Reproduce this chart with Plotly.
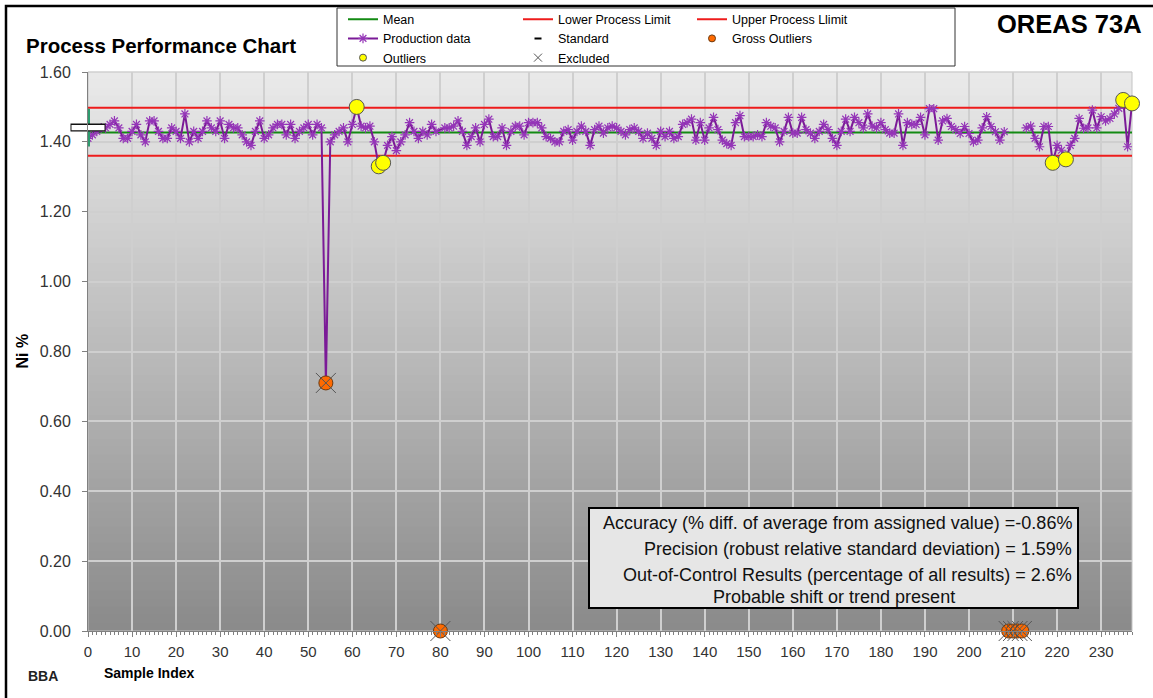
import plotly.graph_objects as go

# ---------------- data ----------------
CHART_TITLE = "Process Performance Chart"
STANDARD_NAME = "OREAS 73A"
Y_TITLE = "Ni %"
X_TITLE = "Sample Index"

MEAN = 1.427
LOWER_LIMIT = 1.360
UPPER_LIMIT = 1.498
STANDARD_VALUE = 1.441
STANDARD_2SD = 0.054
STANDARD_INDEX = 0
X_MAX = 237

# production results by sample index (None = no plotted value)
production_ni = [
    1.41, 1.42, 1.43, 1.44, 1.44, 1.45, 1.46, 1.44, 1.41, 1.41,   # 0-9
    1.43, 1.45, 1.42, 1.40, 1.46, 1.46, 1.43, 1.41, 1.41, 1.44,   # 10-19
    1.43, 1.41, 1.48, 1.40, 1.43, 1.41, 1.43, 1.46, 1.44, 1.43,   # 20-29
    1.46, 1.41, 1.45, 1.44, 1.44, 1.42, 1.40, 1.39, 1.43, 1.46,   # 30-39
    1.41, 1.42, 1.44, 1.45, 1.45, 1.42, 1.45, 1.41, 1.43, 1.44,   # 40-49
    1.45, 1.42, 1.45, 1.44, 0.71, 1.40, 1.42, 1.43, 1.44, 1.40,   # 50-59
    1.45, 1.50, 1.445, 1.44, 1.445, 1.40, 1.33, 1.34, 1.39, 1.415,  # 60-69
    1.375, 1.40, 1.42, 1.455, 1.43, 1.41, 1.43, 1.42, 1.45, 1.43,  # 70-79
    None, 1.44, 1.44, 1.445, 1.46, 1.43, 1.39, 1.415, 1.44, 1.40,  # 80-89
    1.45, 1.465, 1.415, 1.415, 1.44, 1.39, 1.43, 1.445, 1.445, 1.42,  # 90-99
    1.455, 1.455, 1.455, 1.44, 1.415, 1.41, 1.40, 1.40, 1.43, 1.435,  # 100-109
    1.405, 1.43, 1.445, 1.43, 1.39, 1.435, 1.445, 1.425, 1.44, 1.445,  # 110-119
    1.44, 1.43, 1.42, 1.435, 1.44, 1.43, 1.41, 1.425, 1.41, 1.39,  # 120-129
    1.43, 1.415, 1.43, 1.41, 1.415, 1.45, 1.455, 1.465, 1.405, 1.455,  # 130-139
    1.405, 1.44, 1.47, 1.435, 1.405, 1.395, 1.39, 1.455, 1.475, 1.415,  # 140-149
    1.415, 1.415, 1.42, 1.415, 1.455, 1.445, 1.44, 1.40, 1.43, 1.47,  # 150-159
    1.425, 1.425, 1.47, 1.435, 1.425, 1.41, 1.43, 1.45, 1.435, 1.41,  # 160-169
    1.39, 1.43, 1.465, 1.43, 1.47, 1.455, 1.44, 1.48, 1.445, 1.44,  # 170-179
    1.455, 1.435, 1.425, 1.425, 1.48, 1.39, 1.455, 1.45, 1.45, 1.47,  # 180-189
    1.42, 1.495, 1.495, 1.405, 1.46, 1.467, 1.444, 1.435, 1.424, 1.444,  # 190-199
    1.424, 1.40, 1.405, 1.44, 1.472, 1.444, 1.429, 1.405, 1.429, None,  # 200-209
    None, None, None, 1.44, 1.445, 1.41, 1.386, 1.444, 1.444, 1.34,  # 210-219
    1.39, 1.376, 1.35, 1.39, 1.41, 1.467, 1.439, 1.44, 1.491, 1.44,  # 220-229
    1.472, 1.46, 1.467, 1.48, 1.496, 1.52, 1.386, 1.51,  # 230-237
]
# indices whose missing value is bridged by the production line
bridged_indices = [80]

outlier_index = [61, 66, 67, 219, 222, 235, 237]
outlier_ni = [1.50, 1.33, 1.34, 1.34, 1.35, 1.52, 1.51]

gross_index = [54, 80, 209, 210, 211, 212]
gross_ni = [0.71, 0.00, 0.00, 0.00, 0.00, 0.00]

excluded_index = gross_index
excluded_ni = gross_ni

x_tick_values = list(range(0, 231, 10))
y_tick_values = [0.0, 0.2, 0.4, 0.6, 0.8, 1.0, 1.2, 1.4, 1.6]

stats_lines = [
    "Accuracy (% diff. of average from assigned value) =-0.86%",
    "Precision (robust relative standard deviation) = 1.59%",
    "Out-of-Control Results (percentage of all results) = 2.6%",
    "Probable shift or trend present",
]

# ---------------- geometry helpers ----------------
W, H = 1153, 698
PL, PR, PT, PB = 88, 1132, 72, 631


def px_x(px):
    return (px - PL) / (PR - PL)


def px_y(py):
    return (PB - py) / (PB - PT)


FONT = "Liberation Sans, Arial, sans-serif"
PURPLE = "#7b1a97"
PURPLE_MK = "#9536b8"
GREEN = "#138a13"
RED = "#ee1c1c"
GREY_X = "#555555"

fig = go.Figure()

# limits and mean
fig.add_trace(go.Scatter(x=[0, X_MAX], y=[MEAN, MEAN], mode="lines", name="Mean",
                         line=dict(color=GREEN, width=2), legend="legend", legendrank=1,
                         hoverinfo="skip"))
fig.add_trace(go.Scatter(x=[0, X_MAX], y=[LOWER_LIMIT, LOWER_LIMIT], mode="lines",
                         name="Lower Process Limit", line=dict(color=RED, width=2),
                         legend="legend2", legendrank=1, hoverinfo="skip"))
fig.add_trace(go.Scatter(x=[0, X_MAX], y=[UPPER_LIMIT, UPPER_LIMIT], mode="lines",
                         name="Upper Process Llimit", line=dict(color=RED, width=2),
                         legend="legend3", legendrank=1, hoverinfo="skip"))

# production data
prod_x = [i for i, v in enumerate(production_ni) if i not in bridged_indices]
prod_y = [production_ni[i] for i in prod_x]
fig.add_trace(go.Scatter(x=prod_x, y=prod_y, mode="lines+markers", name="Production data",
                         connectgaps=False,
                         line=dict(color=PURPLE, width=2),
                         marker=dict(symbol="asterisk-open", size=8, color=PURPLE_MK,
                                     line=dict(color=PURPLE_MK, width=1.2)),
                         legend="legend", legendrank=2))

# standard (box with 2SD bar)
fig.add_trace(go.Scatter(x=[STANDARD_INDEX], y=[STANDARD_VALUE], mode="markers",
                         showlegend=False, cliponaxis=False,
                         error_y=dict(type="constant", value=STANDARD_2SD, color="#2e9b6e",
                                      thickness=4, width=0),
                         marker=dict(symbol="line-ew", size=25, color="#111111",
                                     line=dict(color="#111111", width=8))))
fig.add_trace(go.Scatter(x=[STANDARD_INDEX], y=[STANDARD_VALUE], mode="markers",
                         showlegend=False, cliponaxis=False,
                         marker=dict(symbol="line-ew", size=23.6, color="white",
                                     line=dict(color="white", width=5.2))))

# outliers
fig.add_trace(go.Scatter(x=outlier_index, y=outlier_ni, mode="markers", showlegend=False,
                         cliponaxis=False,
                         marker=dict(symbol="circle", size=15, color="#ffff00",
                                     line=dict(color="#555555", width=1))))
# gross outliers
fig.add_trace(go.Scatter(x=gross_index, y=gross_ni, mode="markers", showlegend=False,
                         cliponaxis=False,
                         marker=dict(symbol="circle", size=14, color="#ff6a00",
                                     line=dict(color="#6b3a10", width=1))))
# excluded
fig.add_trace(go.Scatter(x=excluded_index, y=excluded_ni, mode="markers", showlegend=False,
                         cliponaxis=False,
                         marker=dict(symbol="x-thin-open", size=20, color=GREY_X,
                                     line=dict(color=GREY_X, width=1))))

# legend entries with small symbols
fig.add_trace(go.Scatter(x=[None], y=[None], mode="markers", name="Standard",
                         marker=dict(symbol="line-ew", size=5, color="black",
                                     line=dict(color="black", width=2)),
                         legend="legend2", legendrank=2))
fig.add_trace(go.Scatter(x=[None], y=[None], mode="markers", name="Excluded",
                         marker=dict(symbol="x-thin-open", size=8, color=GREY_X,
                                     line=dict(color=GREY_X, width=1)),
                         legend="legend2", legendrank=3))
fig.add_trace(go.Scatter(x=[None], y=[None], mode="markers", name="Outliers",
                         marker=dict(symbol="circle", size=7, color="#ffff00",
                                     line=dict(color="#555555", width=1)),
                         legend="legend", legendrank=3))
fig.add_trace(go.Scatter(x=[None], y=[None], mode="markers", name="Gross Outliers",
                         marker=dict(symbol="circle", size=7, color="#ff6a00",
                                     line=dict(color="#6b3a10", width=1)),
                         legend="legend3", legendrank=2))

# ---------------- shapes ----------------
shapes = []
N_BANDS = 70
top_c, bot_c = 234, 138
for k in range(N_BANDS):
    t = (k + 0.5) / N_BANDS
    c = round(top_c + (bot_c - top_c) * t)
    shapes.append(dict(type="rect", xref="x domain", yref="y domain",
                       x0=0, x1=1, y0=1 - (k + 1) / N_BANDS, y1=1 - k / N_BANDS + 0.001,
                       fillcolor=f"rgb({c},{c},{c})", line=dict(width=0), layer="below"))
shapes.append(dict(type="rect", xref="x domain", yref="y domain", x0=0, x1=1, y0=0, y1=1,
                   line=dict(color="#c4c4c4", width=1), layer="below"))
# outer frame
shapes.append(dict(type="rect", xref="paper", yref="paper",
                   x0=px_x(6), x1=px_x(1170), y0=px_y(715), y1=px_y(6),
                   line=dict(color="black", width=2.5), fillcolor="rgba(0,0,0,0)", layer="below"))
# legend box
shapes.append(dict(type="rect", xref="paper", yref="paper",
                   x0=px_x(337), x1=px_x(955), y0=px_y(66), y1=px_y(8),
                   line=dict(color="#333333", width=1), fillcolor="white", layer="below"))
# stats box
shapes.append(dict(type="rect", xref="paper", yref="paper",
                   x0=px_x(589), x1=px_x(1078), y0=px_y(608), y1=px_y(508),
                   line=dict(color="black", width=2), fillcolor="#e6e6e6", layer="above"))

# ---------------- annotations ----------------
ann = []
ann.append(dict(text="<b>" + CHART_TITLE + "</b>", xref="paper", yref="paper",
                x=px_x(24), y=px_y(46), xanchor="left", yanchor="middle", showarrow=False,
                font=dict(size=20.5, color="black", family=FONT)))
ann.append(dict(text="<b>" + STANDARD_NAME + "</b>", xref="paper", yref="paper",
                x=px_x(1144), y=px_y(24), xanchor="right", yanchor="middle", showarrow=False,
                font=dict(size=25.5, color="black", family=FONT)))
ann.append(dict(text="<b>" + Y_TITLE + "</b>", xref="paper", yref="paper",
                x=px_x(22), y=0.5, xanchor="center", yanchor="middle", showarrow=False,
                textangle=-90, font=dict(size=16, color="black", family=FONT)))
ann.append(dict(text="<b>" + X_TITLE + "</b>", xref="paper", yref="paper",
                x=px_x(102), y=px_y(673), xanchor="left", yanchor="middle", showarrow=False,
                font=dict(size=14, color="black", family=FONT)))
ann.append(dict(text="<b>BBA</b>", xref="paper", yref="paper",
                x=px_x(43), y=px_y(676), xanchor="center", yanchor="middle", showarrow=False,
                font=dict(size=14, color="#222222", family=FONT)))
stat_y = [523, 549, 575, 597]
for i, line in enumerate(stats_lines):
    if i < 3:
        ann.append(dict(text=line, xref="paper", yref="paper", x=px_x(1074), y=px_y(stat_y[i]),
                        xanchor="right", yanchor="middle", showarrow=False,
                        font=dict(size=18, color="#111111", family=FONT)))
    else:
        ann.append(dict(text=line, xref="paper", yref="paper", x=px_x(834), y=px_y(stat_y[i]),
                        xanchor="center", yanchor="middle", showarrow=False,
                        font=dict(size=18, color="#111111", family=FONT)))

legend_common = dict(xref="container", yref="container", xanchor="left", yanchor="top",
                     bgcolor="rgba(0,0,0,0)", borderwidth=0, orientation="v",
                     font=dict(size=12.5, color="black", family=FONT), traceorder="normal",
                     itemwidth=30)
leg_y = 1 - 4.5 / H

fig.update_layout(
    width=W, height=H,
    margin=dict(l=PL, r=W - PR, t=PT, b=H - PB, pad=0, autoexpand=False),
    paper_bgcolor="white", plot_bgcolor="#d0d0d0",
    font=dict(family=FONT, color="#333333"),
    showlegend=True,
    legend=dict(x=343 / W, y=leg_y, **legend_common),
    legend2=dict(x=518 / W, y=leg_y, **legend_common),
    legend3=dict(x=692 / W, y=leg_y, **legend_common),
    shapes=shapes,
    annotations=ann,
    xaxis=dict(range=[0, X_MAX], tickvals=x_tick_values, ticks="outside", ticklen=5,
               tickcolor="#808080", tickwidth=1, showline=True, linecolor="#808080",
               linewidth=1, showgrid=True, gridcolor="#cfcfcf", gridwidth=1.5,
               zeroline=False, automargin=False, ticklabelstandoff=2,
               tickfont=dict(size=15, color="#333333", family=FONT),
               minor=dict(dtick=1, tick0=0, ticks="outside", ticklen=3, tickcolor="#808080",
                          tickwidth=1, showgrid=False)),
    yaxis=dict(range=[0, 1.6], tickvals=y_tick_values, tickformat=".2f", ticks="outside",
               ticklen=5, tickcolor="#808080", showline=True, linecolor="#808080",
               linewidth=1, showgrid=True, gridcolor="#cfcfcf", gridwidth=1.5,
               zeroline=False, automargin=False, ticklabelstandoff=8,
               tickfont=dict(size=16, color="#333333", family=FONT)),
)

fig.write_html("out.html")
